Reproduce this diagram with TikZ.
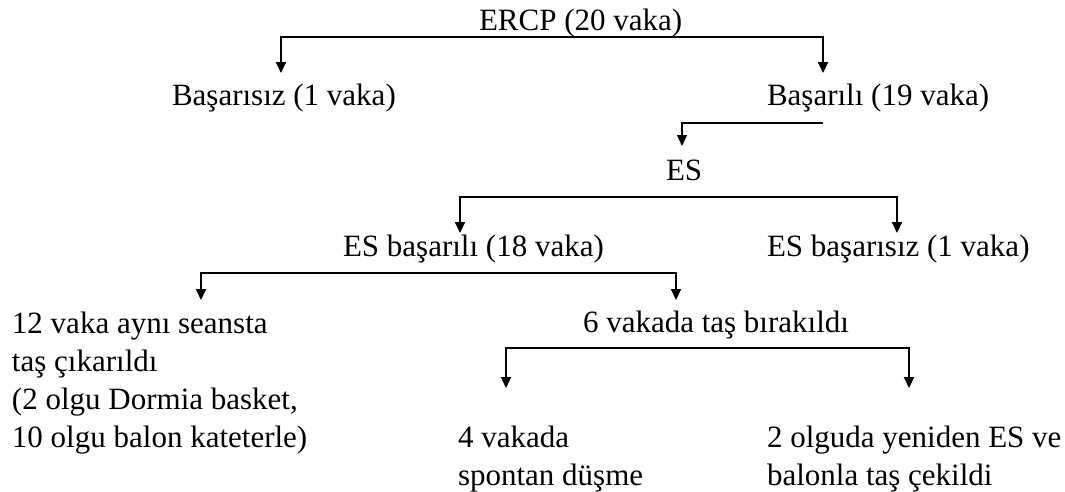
\documentclass[tikz,border=0pt]{standalone}
\usepackage{fontspec}
\setmainfont{Liberation Serif}
\usetikzlibrary{arrows.meta}
\begin{document}
\begin{tikzpicture}[x=1pt,y=-1pt,
  lbl/.style={inner sep=0pt, outer sep=0pt, font=\fontsize{31}{38}\selectfont, anchor=base west},
  blk/.style={inner sep=0pt, outer sep=0pt, font=\fontsize{31}{38}\selectfont, anchor=north west, align=left},
  brk/.style={line width=2pt, line join=miter, {Triangle[length=11pt,width=10pt]}-{Triangle[length=11pt,width=10pt]}},
  arrthin/.style={line width=1.4pt, line join=miter, -{Triangle[length=11pt,width=10pt]}},
]
\useasboundingbox (0,0) rectangle (1065,491);

% texts
\node[lbl] (ercp)   at (479,30)  {ERCP (20 vaka)};
\node[lbl] (fail)   at (172,105) {Başarısız (1 vaka)};
\node[lbl] (succ)   at (767,105) {Başarılı (19 vaka)};
\node[lbl] (es)     at (666,180) {ES};
\node[lbl] (esok)   at (343,256) {ES başarılı (18 vaka)};
\node[lbl] (esfail) at (767,256) {ES başarısız (1 vaka)};
\node[blk] (twelve) at (12,308)  {\rule{0pt}{25pt}12 vaka aynı seansta\\taş çıkarıldı\\(2 olgu Dormia basket,\\10 olgu balon kateterle)};
\node[lbl] (six)    at (583,332) {6 vakada taş bırakıldı};
\node[blk] (four)   at (458,422) {\rule{0pt}{25pt}4 vakada\\spontan düşme};
\node[blk] (two)    at (767,422) {\rule{0pt}{25pt}2 olguda yeniden ES ve\\balonla taş çekildi};

% bracket joints and arrow tips
\coordinate (ercpL) at (281,37);  \coordinate (ercpR) at (823,37);
\coordinate (failT) at (281,73);  \coordinate (succT) at (823,73);
\coordinate (succS) at (823,123); \coordinate (succC) at (682,123);
\coordinate (esT)   at (682,146);
\coordinate (esL)   at (460,197); \coordinate (esR)   at (897,197);
\coordinate (esokT) at (460,233); \coordinate (esfailT) at (897,233);
\coordinate (okL)   at (201,273); \coordinate (okR)   at (676,273);
\coordinate (twelveT) at (201,300); \coordinate (sixT) at (676,300);
\coordinate (sixL)  at (506,348); \coordinate (sixR)  at (909,348);
\coordinate (fourT) at (506,388); \coordinate (twoT)  at (909,388);

% connectors
\draw[brk] (failT) -- (ercpL) -- (ercpR) -- (succT);
\draw[arrthin] (succS) -- (succC) -- (esT);
\draw[brk] (esokT) -- (esL) -- (esR) -- (esfailT);
\draw[brk] (twelveT) -- (okL) -- (okR) -- (sixT);
\draw[brk] (fourT) -- (sixL) -- (sixR) -- (twoT);
\end{tikzpicture}
\end{document}
